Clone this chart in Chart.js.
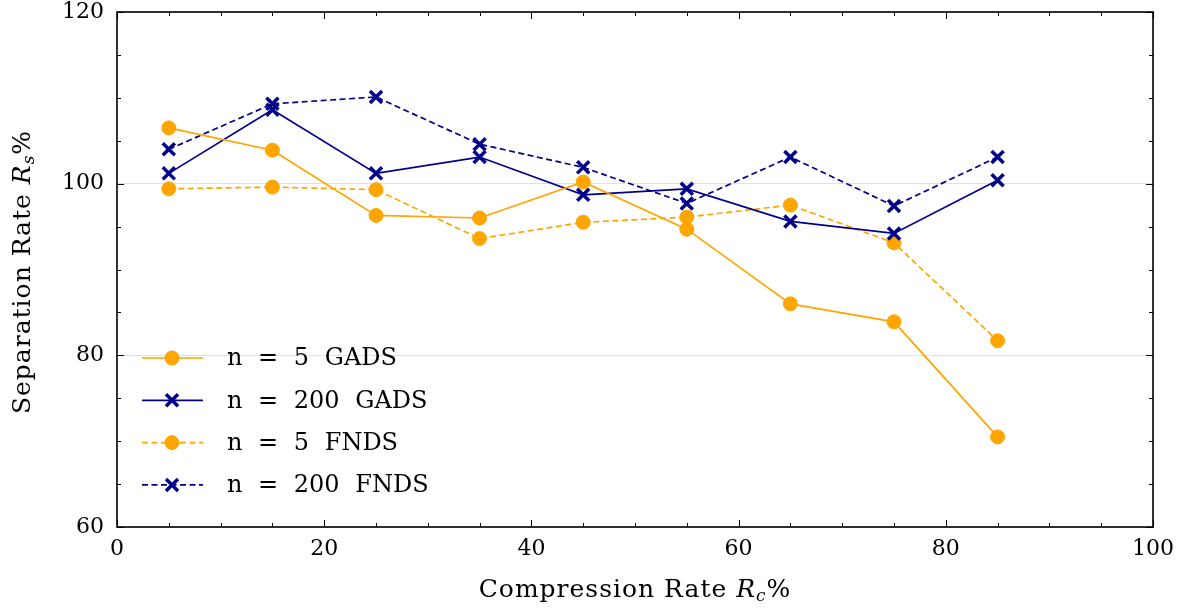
<!DOCTYPE html>
<html>
<head>
<meta charset="utf-8">
<script src="https://cdn.jsdelivr.net/npm/chart.js@4"></script>
<style>
  html, body { margin: 0; padding: 0; background: #fff; }
  #wrap { width: 1181px; height: 609px; }
</style>
</head>
<body>
<div id="wrap"><canvas id="c" width="1181" height="609"></canvas></div>
<script>
// ---- data ----
const compressionRates = [5, 15, 25, 35, 45, 55, 65, 75, 85];
const n5Gads    = [106.5, 103.9, 96.3, 96.0, 100.2, 94.7, 86.0, 83.9, 70.5];
const n200Gads  = [101.2, 108.6, 101.2, 103.1, 98.7, 99.4, 95.6, 94.2, 100.4];
const n5Fnds    = [99.4, 99.6, 99.3, 93.6, 95.5, 96.1, 97.5, 93.1, 81.7];
const n200Fnds  = [104.0, 109.3, 110.1, 104.6, 101.9, 97.7, 103.1, 97.4, 103.1];
const seriesLabels = ['n = 5 GADS', 'n = 200 GADS', 'n = 5 FNDS', 'n = 200 FNDS'];
const xTicks = [0, 20, 40, 60, 80, 100];
const yTicks = [60, 80, 100, 120];

const ORANGE = '#FFA500';
const NAVY = '#00008B';
const FONT = '"DejaVu Serif", "Liberation Serif", serif';

function pts(vals) { return compressionRates.map((x, i) => ({ x: x, y: vals[i] })); }

function makeDs(label, vals, color, dashed, style) {
  const circle = style === 'circle';
  return {
    label: label,
    data: pts(vals),
    borderColor: color,
    backgroundColor: color,
    borderWidth: 1.7,
    borderDash: dashed ? [6, 3.5] : [],
    pointStyle: style,
    pointRadius: circle ? 7 : 8.5,
    pointHoverRadius: circle ? 7 : 8.5,
    pointBorderWidth: circle ? 1 : 3.5,
    pointBackgroundColor: color,
    pointBorderColor: color,
    tension: 0,
    fill: false
  };
}

const datasets = [
  makeDs(seriesLabels[0], n5Gads, ORANGE, false, 'circle'),
  makeDs(seriesLabels[1], n200Gads, NAVY, false, 'crossRot'),
  makeDs(seriesLabels[2], n5Fnds, ORANGE, true, 'circle'),
  makeDs(seriesLabels[3], n200Fnds, NAVY, true, 'crossRot')
];

// frame with inward ticks on all sides
const framePlugin = {
  id: 'frame',
  afterDraw(chart) {
    const ctx = chart.ctx, a = chart.chartArea;
    const xs = chart.scales.x, ys = chart.scales.y;
    ctx.save();
    ctx.strokeStyle = '#000';
    ctx.lineWidth = 1;
    ctx.beginPath();
    for (let v = 0; v <= 100; v += 5) {
      const px = Math.round(xs.getPixelForValue(v)) + 0.5;
      const len = (v % 20 === 0) ? 7 : 4;
      ctx.moveTo(px, a.bottom); ctx.lineTo(px, a.bottom - len);
      ctx.moveTo(px, a.top); ctx.lineTo(px, a.top + len);
    }
    for (let v = 60; v <= 120; v += 5) {
      const py = Math.round(ys.getPixelForValue(v)) + 0.5;
      const len = (v % 20 === 0) ? 7 : 4;
      ctx.moveTo(a.left, py); ctx.lineTo(a.left + len, py);
      ctx.moveTo(a.right, py); ctx.lineTo(a.right - len, py);
    }
    ctx.stroke();
    ctx.lineWidth = 1.6;
    ctx.strokeRect(a.left, a.top, a.right - a.left, a.bottom - a.top);
    ctx.restore();
  }
};

// mixed-style axis titles
function drawRich(ctx, parts, cx, cy) {
  let total = 0;
  parts.forEach(p => { ctx.font = p.font; p.w = ctx.measureText(p.t).width; total += p.w; });
  let x = cx - total / 2;
  parts.forEach(p => {
    ctx.font = p.font;
    ctx.fillText(p.t, x, cy + (p.dy || 0));
    x += p.w;
  });
}
const titlePlugin = {
  id: 'axisTitles',
  afterDraw(chart) {
    const ctx = chart.ctx, a = chart.chartArea;
    ctx.save();
    ctx.fillStyle = '#000';
    ctx.textBaseline = 'alphabetic';
    ctx.textAlign = 'left';
    try { ctx.letterSpacing = '1px'; } catch (e) {}
    const xc = (a.left + a.right) / 2;
    drawRich(ctx, [
      { t: 'Compression Rate ', font: '25px ' + FONT },
      { t: 'R', font: 'italic 25px ' + FONT },
      { t: 'c', font: 'italic 17px ' + FONT, dy: 4 },
      { t: '%', font: '25px ' + FONT }
    ], xc, 597);
    ctx.translate(30, 272);
    ctx.rotate(-Math.PI / 2);
    drawRich(ctx, [
      { t: 'Separation Rate ', font: '25px ' + FONT },
      { t: 'R', font: 'italic 25px ' + FONT },
      { t: 's', font: 'italic 17px ' + FONT, dy: 4 },
      { t: '%', font: '25px ' + FONT }
    ], 0, 0);
    ctx.restore();
  }
};

// legend inside the plot, bottom-left
const legendPlugin = {
  id: 'innerLegend',
  afterDraw(chart) {
    const ctx = chart.ctx;
    ctx.save();
    chart.data.datasets.forEach((ds, i) => {
      const y = 358 + i * 42.3;
      ctx.strokeStyle = ds.borderColor;
      ctx.lineWidth = ds.borderWidth;
      ctx.setLineDash(ds.borderDash || []);
      ctx.beginPath();
      ctx.moveTo(142, y); ctx.lineTo(203, y);
      ctx.stroke();
      ctx.setLineDash([]);
      ctx.fillStyle = ds.pointBackgroundColor;
      ctx.strokeStyle = ds.pointBorderColor;
      ctx.lineWidth = ds.pointBorderWidth;
      Chart.helpers.drawPoint(ctx, {
        pointStyle: ds.pointStyle,
        radius: ds.pointRadius,
        borderWidth: ds.pointBorderWidth,
        rotation: 0
      }, 172, y);
      ctx.fillStyle = '#000';
      ctx.font = '24px ' + FONT;
      try { ctx.wordSpacing = '8px'; ctx.letterSpacing = '0px'; } catch (e) {}
      ctx.textBaseline = 'middle';
      ctx.textAlign = 'left';
      ctx.fillText(ds.label, 227, y + 1);
    });
    ctx.restore();
  }
};

new Chart(document.getElementById('c'), {
  type: 'line',
  data: { datasets: datasets },
  options: {
    responsive: false,
    animation: false,
    devicePixelRatio: 1,
    layout: { padding: { top: 12, right: 28, left: 0, bottom: 0 } },
    plugins: { legend: { display: false }, tooltip: { enabled: false } },
    scales: {
      x: {
        type: 'linear', min: 0, max: 100,
        afterBuildTicks(s) { s.ticks = xTicks.map(v => ({ value: v })); },
        afterFit(s) { s.height = 82; s.paddingLeft = 0; s.paddingRight = 0; },
        ticks: { color: '#000', font: { family: FONT, size: 22 }, padding: 9, maxRotation: 0 },
        grid: { display: false, drawTicks: false },
        border: { display: false }
      },
      y: {
        type: 'linear', min: 60, max: 120,
        afterBuildTicks(s) { s.ticks = yTicks.map(v => ({ value: v })); },
        afterFit(s) { s.width = 117; s.paddingTop = 0; s.paddingBottom = 0; },
        ticks: { color: '#000', font: { family: FONT, size: 22 }, padding: 13 },
        grid: { color: '#e0e0e0', lineWidth: 1, drawTicks: false },
        border: { display: false }
      }
    }
  },
  plugins: [framePlugin, titlePlugin, legendPlugin]
});
</script>
</body>
</html>
